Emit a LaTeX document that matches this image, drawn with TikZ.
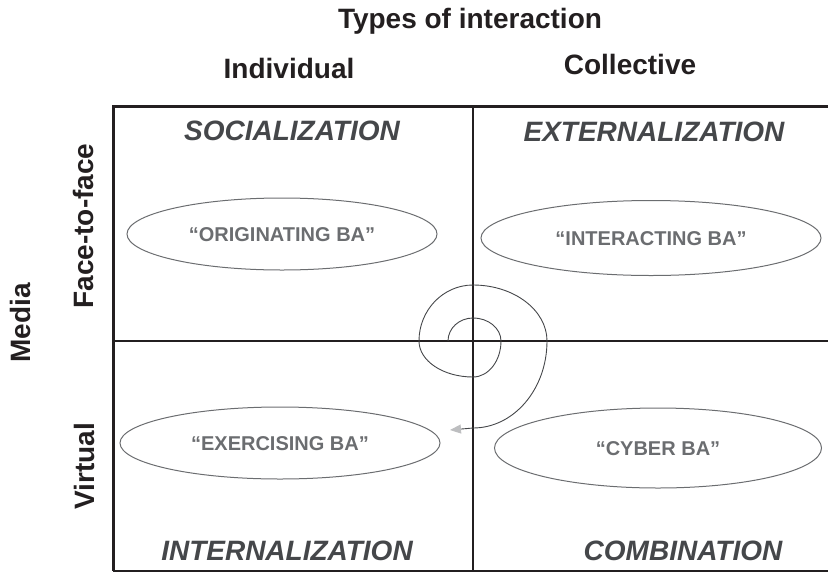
\documentclass[tikz,border=0pt]{standalone}
\usepackage{fontspec}
\setmainfont{Liberation Sans}
\usepackage{xcolor}
\definecolor{ink}{HTML}{231F20}
\definecolor{slate}{HTML}{45474A}
\definecolor{ash}{HTML}{6B6D70}
\definecolor{haze}{HTML}{BDBEC0}
\usepackage{tikz}
\usetikzlibrary{positioning,arrows.meta,shapes.geometric,calc}
\tikzset{
  frm/.style={draw=ink,line width=3pt},
  frmb/.style={draw=ink,line width=1.6pt},
  divl/.style={draw=ink,line width=1.8pt},
  axl/.style={font=\fontsize{28}{30}\selectfont\bfseries,text=ink,inner sep=0pt,
    text height=20.2pt,text depth=0pt},
  quad/.style={font=\fontsize{28}{30}\selectfont\bfseries\itshape,text=slate,inner sep=0pt,
    text height=20.2pt,text depth=0pt},
  ba/.style={ellipse,draw=ash,line width=1pt,font=\fontsize{20}{22}\selectfont\bfseries,
    text=ash,inner sep=0pt,text height=14.4pt,text depth=0pt},
  spir/.style={draw=slate,line width=0.9pt},
}

\begin{document}
\begin{tikzpicture}[x=1pt,y=-1pt]
  \useasboundingbox (0,0) rectangle (828,574);
  % frame and quadrants
  \coordinate (tl) at (113,106); \coordinate (tr) at (828,106);
  \coordinate (bl) at (113,571); \coordinate (br) at (828,571);
  \coordinate (mt) at (473,106); \coordinate (mb) at (473,571);
  \coordinate (ml) at (113,341); \coordinate (mr) at (828,341);
  \coordinate (o) at (473,341);
  \draw[frm] (tr) -- (tl) -- (bl);
  \draw[frmb] (bl) -- (br);
  \draw[divl] (mt) -- (mb) (ml) -- (mr);
  % axis labels
  \node[axl] (types) at (470,18) {Types of interaction};
  \node[axl] (indiv) at (289,68) {Individual};
  \node[axl] (coll) at (630,64) {Collective};
  \node[axl,rotate=90] (media) at (20,323) {Media};
  \node[axl,rotate=90] (face) at (83,226) {Face-to-face};
  \node[axl,rotate=90] (virt) at (84,466) {Virtual};
  % quadrant titles
  \node[quad] (soc) at (292,130) {SOCIALIZATION};
  \node[quad] (ext) at (654,131) {EXTERNALIZATION};
  \node[quad] (int) at (287,550) {INTERNALIZATION};
  \node[quad] (comb) at (683,550) {COMBINATION};
  % ba ellipses
  \node[ba,minimum width=310,minimum height=72] (orig) at (282,234) {“ORIGINATING BA”};
  \node[ba,minimum width=340,minimum height=75] (inter) at (651,238) {“INTERACTING BA”};
  \node[ba,minimum width=320,minimum height=72] (exer) at (280,443) {“EXERCISING BA”};
  \node[ba,minimum width=327,minimum height=80] (cyber) at (658,448) {“CYBER BA”};
  % spiral
  \draw[spir,-{Triangle[length=11pt,width=9pt,color=haze]}] ($(o)+(-25,0)$)
    arc[start angle=180,end angle=270,x radius=25,y radius=23]
    arc[start angle=270,end angle=360,x radius=28,y radius=23]
    arc[start angle=0,end angle=90,x radius=28,y radius=36]
    arc[start angle=90,end angle=180,x radius=54,y radius=36]
    arc[start angle=180,end angle=270,x radius=54,y radius=56]
    arc[start angle=270,end angle=360,x radius=74,y radius=56]
    arc[start angle=0,end angle=90,x radius=74,y radius=87] -- ++(-23,2);
\end{tikzpicture}
\end{document}
